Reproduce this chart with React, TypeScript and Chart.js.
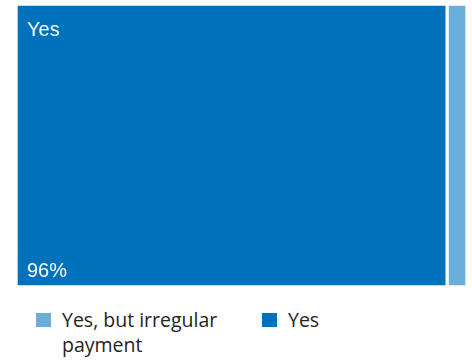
import React, { useEffect, useRef } from "react";
import { Chart, registerables } from "chart.js";

Chart.register(...registerables);

const categories: string[] = [""];
const seriesNames: string[] = ["Yes", "Yes, but irregular payment"];
const yesValues: number[] = [95.6];
const irregularValues: number[] = [4.4];
const seriesColors: string[] = ["#0072BC", "#6BADDB"];
const legendOrder: number[] = [1, 0];

const labelPlugin = {
  id: "innerLabels",
  afterDatasetsDraw(chart: any) {
    const ctx = chart.ctx;
    const meta = chart.getDatasetMeta(0);
    const el: any = meta.data[0];
    if (!el) return;
    const left = Math.min(el.base, el.x) + 2;
    const top = el.y - el.height / 2 + 2;
    const bottom = el.y + el.height / 2 - 2;
    const value = Math.round(chart.data.datasets[0].data[0]);
    ctx.save();
    ctx.fillStyle = "#ffffff";
    ctx.font = '20px "Liberation Sans", Arial, sans-serif';
    ctx.textAlign = "left";
    ctx.textBaseline = "alphabetic";
    ctx.fillText(chart.data.datasets[0].label, left + 9, top + 30);
    ctx.fillText(value + "%", left + 9, bottom - 8);
    ctx.restore();
  },
};

export default function App() {
  const ref = useRef<HTMLCanvasElement | null>(null);
  useEffect(() => {
    if (!ref.current) return;
    const chart = new Chart(ref.current, {
      type: "bar",
      data: {
        labels: categories,
        datasets: [
          {
            label: seriesNames[0],
            data: yesValues,
            backgroundColor: seriesColors[0],
            borderColor: "#ffffff",
            borderWidth: 2,
            borderSkipped: false,
            categoryPercentage: 1,
            barPercentage: 1,
          },
          {
            label: seriesNames[1],
            data: irregularValues,
            backgroundColor: seriesColors[1],
            borderColor: "#ffffff",
            borderWidth: 2,
            borderSkipped: false,
            categoryPercentage: 1,
            barPercentage: 1,
          },
        ],
      },
      options: {
        indexAxis: "y",
        animation: false,
        responsive: false,
        maintainAspectRatio: false,
        layout: { padding: { left: 16, top: 4, right: 5, bottom: 13 } },
        scales: {
          x: { stacked: true, display: false, min: 0, max: 100 },
          y: { stacked: true, display: false },
        },
        plugins: {
          legend: { display: false },
          tooltip: { enabled: false },
        },
      },
      plugins: [labelPlugin],
    } as any);
    return () => chart.destroy();
  }, []);

  return (
    <div style={{ position: "absolute", left: 0, top: 0, width: 472, height: 362, background: "#fff" }}>
      <canvas ref={ref} width={472} height={300} style={{ position: "absolute", left: 0, top: 0, width: 472, height: 300 }} />
      {legendOrder.map((idx, i) => (
        <div
          key={idx}
          style={{
            position: "absolute",
            left: i === 0 ? 36 : 262,
            top: 307,
            display: "flex",
            alignItems: "flex-start",
          }}
        >
          <div style={{ width: 15, height: 14, marginTop: 6, background: seriesColors[idx], flex: "none" }} />
          <div
            style={{
              marginLeft: 11,
              width: 175,
              fontFamily: '"Open Sans", "Noto Sans", sans-serif',
              fontSize: 19.5,
              lineHeight: "25px",
              color: "#252423",
            }}
          >
            {seriesNames[idx]}
          </div>
        </div>
      ))}
    </div>
  );
}
